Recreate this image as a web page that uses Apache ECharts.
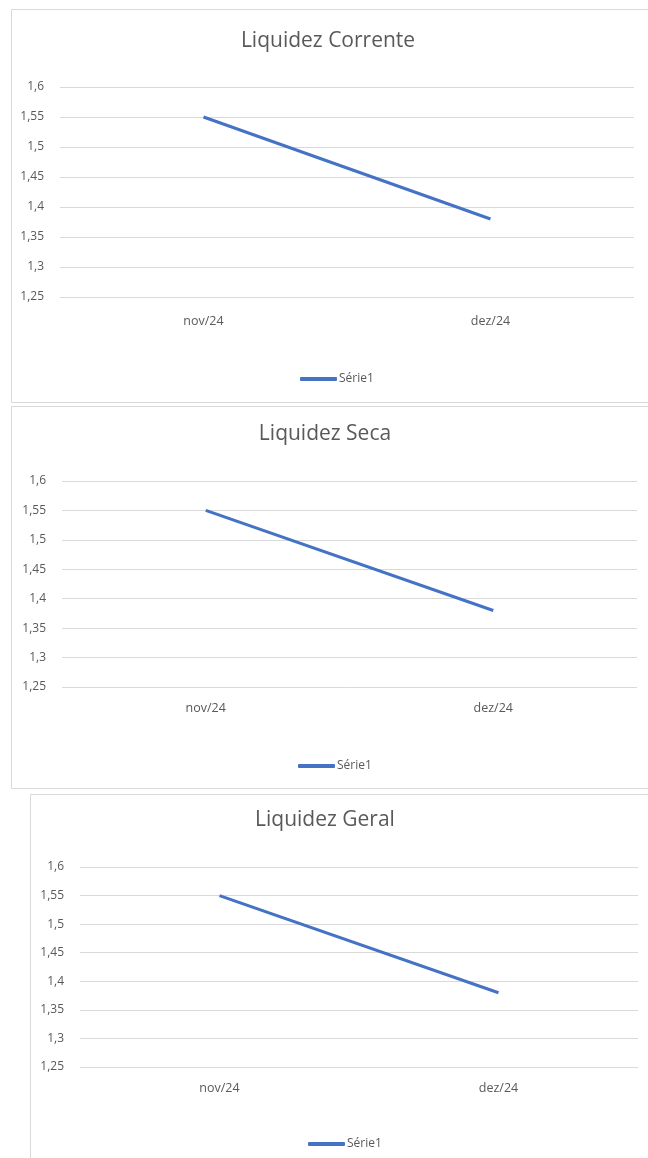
<!DOCTYPE html>
<html>
<head>
<meta charset="utf-8">
<script src="https://cdn.jsdelivr.net/npm/echarts@6/dist/echarts.min.js"></script>
<style>
  html, body { margin: 0; padding: 0; background: #fff; }
  #main { width: 648px; height: 1158px; }
</style>
</head>
<body>
<div id="main"></div>
<script>
'use strict';

// dados
const months = ['nov/24', 'dez/24'];
const correnteValues = [1.55, 1.38];
const secaValues = [1.55, 1.38];
const geralValues = [1.55, 1.38];
const chartTitles = ['Liquidez Corrente', 'Liquidez Seca', 'Liquidez Geral'];
const seriesName = 'Série1';
const yMin = 1.25;
const yMax = 1.6;
const yStep = 0.05;

const font = '"Open Sans", "Liberation Sans", sans-serif';
const gray = '#595959';
const blue = '#4472C4';

// caixas / posições de cada gráfico na página
const boxes = [
  { x: 11.5, y: 9.5,   w: 660, h: 393, titleX: 323, titleY: 26,  grid: { left: 60, top: 87,  width: 574, height: 210 }, labelMargin: 18, legend: { left: 295, top: 368 } },
  { x: 11.5, y: 406.5, w: 660, h: 382, titleX: 320, titleY: 419, grid: { left: 62, top: 481, width: 575, height: 206 }, labelMargin: 15, legend: { left: 293, top: 755 } },
  { x: 30.5, y: 794.5, w: 660, h: 400, titleX: 320, titleY: 805, grid: { left: 80, top: 867, width: 558, height: 200 }, labelMargin: 15, legend: { left: 303, top: 1133 } }
];
const allValues = [correnteValues, secaValues, geralValues];

let myChart = echarts.init(document.getElementById('main'));

let option = {
  backgroundColor: '#fff',
  animation: false,
  graphic: boxes.map((b) => ({
    type: 'rect',
    silent: true,
    shape: { x: b.x, y: b.y, width: b.w, height: b.h },
    style: { fill: 'none', stroke: '#d9d9d9', lineWidth: 1 }
  })),
  title: boxes.map((b, i) => ({
    text: chartTitles[i],
    left: b.titleX,
    top: b.titleY,
    textAlign: 'center',
    textStyle: { fontFamily: font, fontSize: 21, fontWeight: 'normal', color: gray }
  })),
  legend: boxes.map((b, i) => ({
    data: [{ name: seriesName, icon: 'roundRect' }],
    left: b.legend.left,
    top: b.legend.top,
    itemWidth: 37,
    itemHeight: 4,
    selectedMode: false,
    textStyle: { fontFamily: font, fontSize: 12, color: gray, padding: [0, 0, 0, -3] }
  })),
  grid: boxes.map((b) => Object.assign({}, b.grid)),
  xAxis: boxes.map((b, i) => ({
    type: 'category',
    gridIndex: i,
    data: months,
    boundaryGap: true,
    axisLine: { show: false },
    axisTick: { show: false },
    axisLabel: { color: gray, fontFamily: font, fontSize: 12.5, margin: b.labelMargin }
  })),
  yAxis: boxes.map((b, i) => ({
    type: 'value',
    gridIndex: i,
    min: yMin,
    max: yMax,
    interval: yStep,
    axisLine: { show: false },
    axisTick: { show: false },
    splitLine: { lineStyle: { color: '#d9d9d9', width: 1 } },
    axisLabel: {
      color: gray,
      fontFamily: font,
      fontSize: 12,
      margin: 16,
      formatter: (v) => String(+v.toFixed(2)).replace('.', ',')
    }
  })),
  series: allValues.map((vals, i) => ({
    name: seriesName,
    type: 'line',
    xAxisIndex: i,
    yAxisIndex: i,
    data: vals,
    symbol: 'none',
    lineStyle: { color: blue, width: 3 },
    itemStyle: { color: blue }
  }))
};

myChart.setOption(option);
</script>
</body>
</html>
